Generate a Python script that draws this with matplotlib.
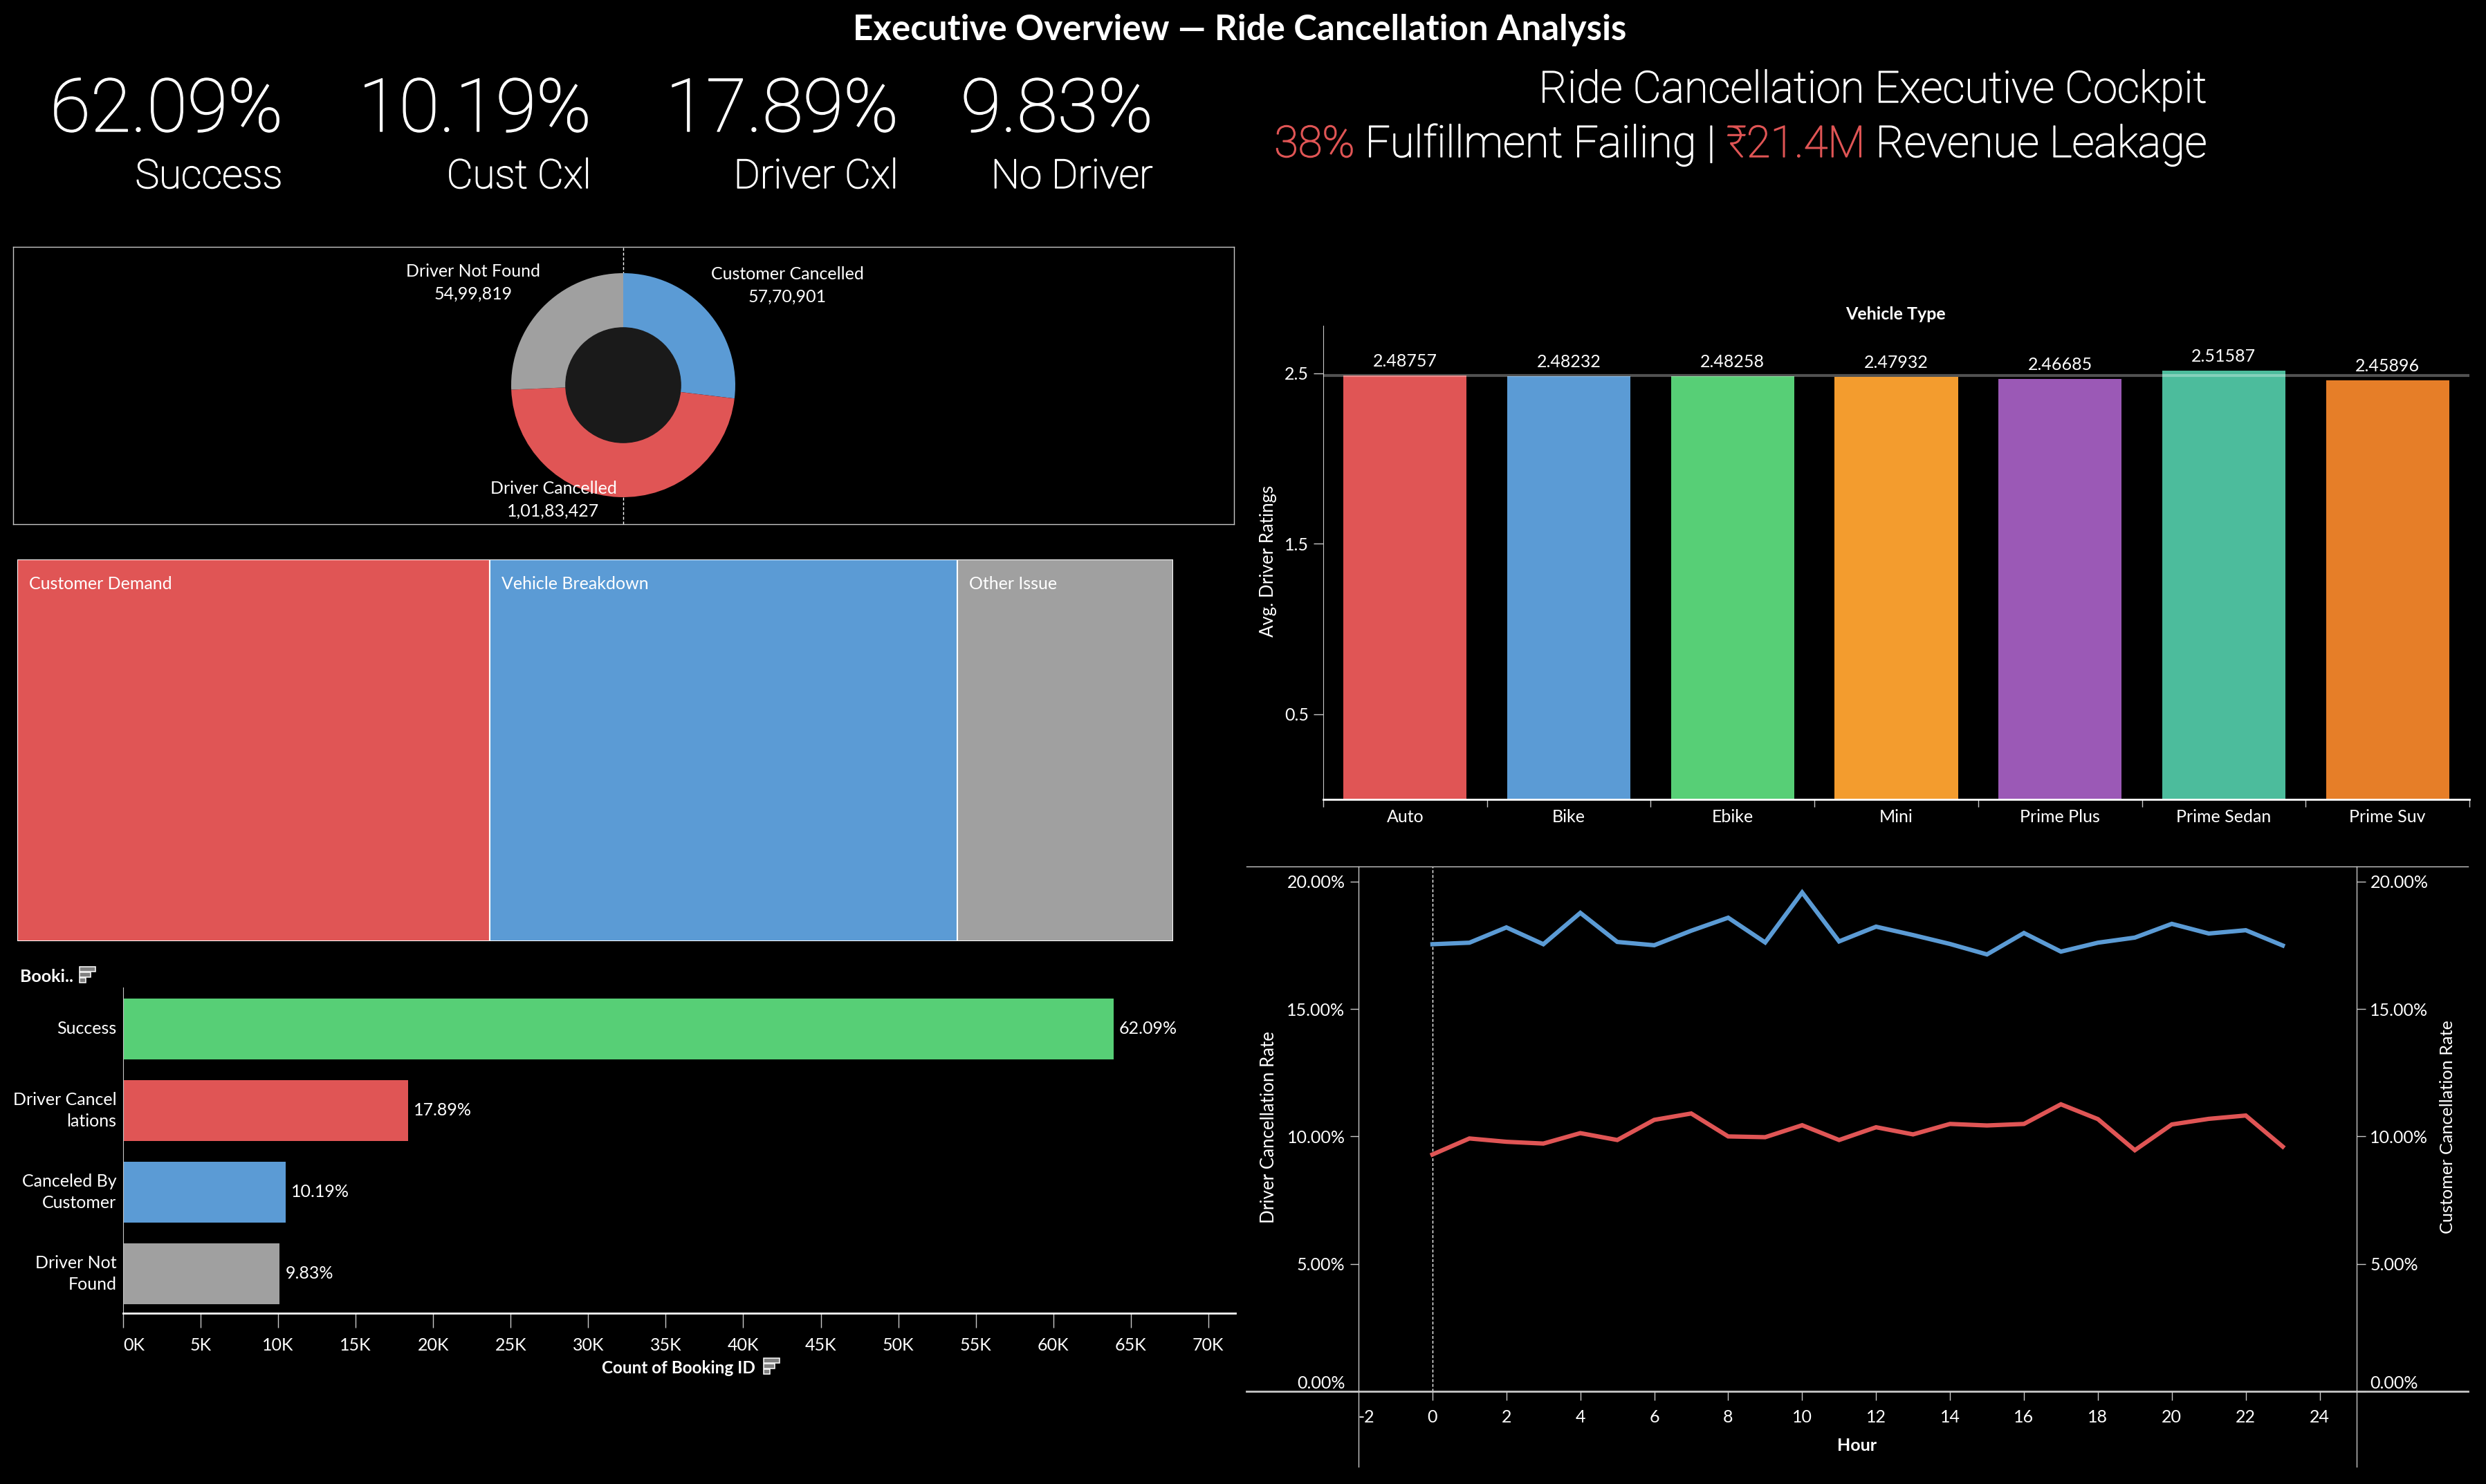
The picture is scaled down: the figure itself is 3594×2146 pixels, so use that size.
import matplotlib
matplotlib.use('Agg')
import matplotlib.pyplot as plt
import matplotlib.patheffects as pe
from matplotlib.lines import Line2D
from matplotlib.patches import Rectangle, Circle
import numpy as np

W, H = 3594, 2146
RED = '#e05555'
BLUE = '#5b9bd5'
GREEN = '#57cf76'
GREY = '#a0a0a0'
ORANGE = '#f39c2e'
PURPLE = '#9b59b6'
TEAL = '#4cbc9c'
DORANGE = '#e67e28'
LINE = '#c8c8c8'
LIGHT = ['Roboto', 'DejaVu Sans']

plt.rcParams['font.family'] = ['Lato', 'DejaVu Sans']
plt.rcParams['text.color'] = 'white'

# kpi row
kpi_values = ['62.09%', '10.19%', '17.89%', '9.83%']
kpi_labels = ['Success', 'Cust Cxl', 'Driver Cxl', 'No Driver']

# donut
donut_names = ['Customer Cancelled', 'Driver Cancelled', 'Driver Not Found']
donut_values = [5770901, 10183427, 5499819]
donut_text = ['57,70,901', '1,01,83,427', '54,99,819']

# treemap
tree_names = ['Customer Demand', 'Vehicle Breakdown', 'Other Issue']
tree_values = [40.9, 40.4, 18.7]

# booking status bars
status_names = ['Success', 'Driver Cancel\nlations', 'Canceled By\nCustomer', 'Driver Not\nFound']
status_counts = [63900, 18400, 10500, 10100]
status_pct = ['62.09%', '17.89%', '10.19%', '9.83%']

# ratings
vehicles = ['Auto', 'Bike', 'Ebike', 'Mini', 'Prime Plus', 'Prime Sedan', 'Prime Suv']
ratings = [2.48757, 2.48232, 2.48258, 2.47932, 2.46685, 2.51587, 2.45896]
rating_avg = 2.487

# hourly rates
hours = list(range(24))
driver_rate = [17.54, 17.60, 18.20, 17.54, 18.77, 17.63, 17.50, 18.07, 18.58, 17.61, 19.57, 17.65,
               18.23, 17.90, 17.55, 17.14, 17.98, 17.25, 17.60, 17.80, 18.34, 17.96, 18.09, 17.49]
customer_rate = [9.29, 9.92, 9.79, 9.72, 10.13, 9.86, 10.65, 10.90, 10.00, 9.97, 10.44, 9.86,
                 10.36, 10.08, 10.49, 10.43, 10.49, 11.26, 10.68, 9.46, 10.47, 10.69, 10.82, 9.60]

fig = plt.figure(figsize=(W / 100, H / 100), dpi=100, facecolor='black')


def add_ax(l, t, r, b):
    ax = fig.add_axes([l / W, 1 - b / H, (r - l) / W, (b - t) / H])
    ax.set_facecolor('none')
    return ax


def txt(x, y, s, size=18, ha='center', va='center', **kw):
    return fig.text(x / W, 1 - y / H, s, fontsize=size, ha=ha, va=va, **kw)


def big(x, y, s, size, color='white'):
    # roboto light is a bit too thin for these, thicken it slightly
    t = txt(x, y, s, size=size, ha='right', va='baseline', color=color, family=LIGHT, fontweight='light')
    t.set_path_effects([pe.withStroke(linewidth=1.0, foreground=color)])
    return t


def fline(x0, y0, x1, y1, lw=1.0, color=LINE):
    fig.add_artist(Line2D([x0 / W, x1 / W], [1 - y0 / H, 1 - y1 / H], color=color, lw=lw,
                          transform=fig.transFigure))


def sort_icon(x, y):
    for i, w in enumerate([23, 16, 9]):
        fig.add_artist(Rectangle((x / W, 1 - (y + 7 + i * 8) / H), w / W, 7 / H, facecolor='#808080',
                                 edgecolor='white', lw=1.1, transform=fig.transFigure))


def style_ticks(ax, size=18):
    ax.tick_params(colors=LINE, labelcolor='white', labelsize=size, width=1.0, length=6)


# headers
txt(1792, 58, 'Executive Overview — Ride Cancellation Analysis', size=36.7, va='baseline', fontweight='bold')
for x, val, lab in zip([409, 855, 1299, 1667], kpi_values, kpi_labels):
    big(x, 190, val, 77)
    big(x, 272, lab, 42)

big(3191, 148, 'Ride Cancellation Executive Cockpit', 45.5)
parts = [(' Revenue Leakage', 'white'), ('₹21.4M', RED), (' Fulfillment Failing | ', 'white'), ('38%', RED)]
rend = fig.canvas.get_renderer()
xpos = 3191
for s, c in parts:
    t = big(xpos, 227, s.replace(' ', '\u00a0'), 45.5, color=c)
    xpos -= t.get_window_extent(rend).width

# donut
box = add_ax(19, 357, 1784, 758)
box.set_xticks([])
box.set_yticks([])
for s in box.spines.values():
    s.set_color(LINE)
    s.set_linewidth(1.0)
box.axvline(0.4997, color='white', lw=1.0, ls=(0, (3, 2)))

dn = add_ax(739, 395, 1063, 719)
dn.pie(donut_values, colors=[BLUE, RED, GREY], startangle=90, counterclock=False, radius=1.0)
dn.add_patch(Circle((0, 0), 0.513, color='#1a1a1a', zorder=5))
dn.set_xlim(-1, 1)
dn.set_ylim(-1, 1)
for (x, y), name, val in zip([(1138, 396), (800, 706), (684, 392)], donut_names, donut_text):
    txt(x, y, name)
    txt(x, y + 33, val)

# treemap
tree = add_ax(25, 809, 1696, 1361)
left = 0
for name, v, c in zip(tree_names, tree_values, [RED, BLUE, GREY]):
    tree.barh(0, v, left=left, height=1, color=c, edgecolor='white', lw=1.5)
    tree.annotate(name, (left, 0.5), xytext=(17, -35), textcoords='offset pixels', fontsize=18,
                  color='white', va='center', ha='left')
    left += v
tree.set_xlim(0, left)
tree.set_ylim(-0.5, 0.5)
tree.axis('off')

# booking status bars
bars = add_ax(178, 1428, 1786, 1899)
bars.barh(range(4), status_counts, height=0.746, color=[GREEN, RED, BLUE, GREY])
for i, (v, p) in enumerate(zip(status_counts, status_pct)):
    bars.annotate(p, (v, i), xytext=(8, 0), textcoords='offset pixels', fontsize=18, color='white', va='center')
bars.set_xlim(0, 71750)
bars.set_ylim(3.483, -0.508)
bars.set_xticks(np.arange(0, 70001, 5000))
bars.set_xticklabels(['%dK' % (v / 1000) for v in np.arange(0, 70001, 5000)])
bars.get_xticklabels()[0].set_ha('left')
bars.set_yticks(range(4))
bars.set_yticklabels(status_names, linespacing=1.45, multialignment='right', va='center')
style_ticks(bars)
bars.tick_params(axis='y', length=0, pad=7)
bars.tick_params(axis='x', length=15, pad=10)
for s in ['top', 'right']:
    bars.spines[s].set_visible(False)
bars.spines['left'].set_color(LINE)
bars.spines['bottom'].set_color('white')
bars.spines['bottom'].set_linewidth(2.0)
txt(981, 1978, 'Count of Booking ID', size=17.5, fontweight='bold')
sort_icon(1104, 1964)
txt(29, 1412, 'Booki..', ha='left', fontweight='bold')
sort_icon(115, 1398)

# ratings
rate = add_ax(1913, 471, 3570, 1156)
rate.bar(range(7), ratings, width=0.752, color=[RED, BLUE, GREEN, ORANGE, PURPLE, TEAL, DORANGE])
rate.axhline(rating_avg, color='white', alpha=0.32, lw=3.0, zorder=5)
for i, v in enumerate(ratings):
    rate.annotate('%.5f' % v, (i, v), xytext=(0, 21), textcoords='offset pixels', fontsize=18,
                  color='white', ha='center', va='center')
rate.set_xlim(-0.5, 6.5)
rate.set_ylim(0, 2.78)
rate.set_xticks(np.arange(-0.5, 6.6, 1))
rate.set_xticklabels([])
rate.set_xticks(range(7), minor=True)
rate.set_xticklabels(vehicles, minor=True)
rate.set_yticks([0.5, 1.5, 2.5])
rate.set_yticklabels(['0.5', '1.5', '2.5'])
style_ticks(rate)
rate.tick_params(axis='x', which='minor', length=0, pad=10, labelsize=18, labelcolor='white')
rate.tick_params(axis='x', which='major', length=8)
rate.tick_params(axis='y', length=10, pad=5)
for s in ['top', 'right']:
    rate.spines[s].set_visible(False)
rate.spines['left'].set_color(LINE)
rate.spines['bottom'].set_color('white')
rate.spines['bottom'].set_linewidth(2.0)
txt(2740, 454, 'Vehicle Type', fontweight='bold')
txt(1834, 811, 'Avg. Driver Ratings', size=18.6, rotation=90)

# hourly lines
hr = add_ax(1964, 1253, 3407, 2012)
hr.axvline(0, color='white', lw=1.0, ls=(0, (3, 2)))
hr.plot(hours, driver_rate, color=BLUE, lw=4.5, solid_joinstyle='miter')
hr.set_xlim(-2, 25)
hr.set_ylim(0.08, 20.59)
hr2 = hr.twinx()
hr2.set_facecolor('none')
hr2.plot(hours, customer_rate, color=RED, lw=4.5, solid_joinstyle='miter')
hr2.set_ylim(0.08, 20.59)
hr.set_xticks(range(-2, 25, 2))
hr.set_xticklabels([str(v) for v in range(-2, 25, 2)])
for a in (hr, hr2):
    a.set_yticks([0, 5, 10, 15, 20])
    a.set_yticklabels(['%.2f%%' % v for v in [0, 5, 10, 15, 20]])
    style_ticks(a)
    a.tick_params(axis='y', length=9, pad=5)
    a.get_yticklabels()[0].set_va('bottom')
    for s in ['top', 'bottom', 'left', 'right']:
        a.spines[s].set_visible(False)
hr.tick_params(axis='x', length=9, pad=10)
hr.get_xticklabels()[0].set_ha('left')
hr.xaxis.get_major_ticks()[0].tick1line.set_visible(False)
fline(1802, 1253, 3568, 1253, lw=1.0)
fline(1802, 2012, 3568, 2012, lw=2.0)
fline(1964, 1253, 1964, 2121)
fline(3407, 1253, 3407, 2121)
txt(2685, 2091, 'Hour', fontweight='bold')
txt(1834, 1630, 'Driver Cancellation Rate', size=18.6, rotation=90)
txt(3538, 1630, 'Customer Cancellation Rate', size=18.2, rotation=90)

fig.savefig('out.png', dpi=100, facecolor='black')
